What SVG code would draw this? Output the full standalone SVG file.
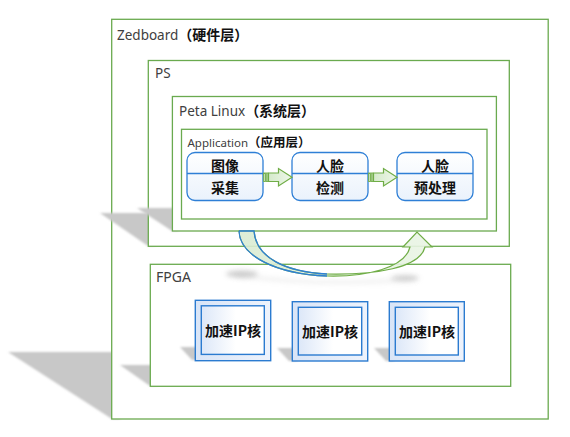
<svg xmlns="http://www.w3.org/2000/svg" width="570" height="437" viewBox="0 0 570 437">
<defs>
<style>
.box{fill:#ffffff;stroke:#6aaa4f;stroke-width:1.3}
.lbl{font-family:"Noto Sans","Open Sans",sans-serif;fill:#404040}
.cjk{font-family:"Noto Sans CJK SC",sans-serif;font-weight:bold;fill:#111}
.ntx{font-family:"Noto Sans CJK SC",sans-serif;font-weight:bold;font-size:14px;fill:#111;text-anchor:middle;dominant-baseline:central}
.node{fill:url(#nodeFill);stroke:#2e7fd6;stroke-width:1.3}
.div{stroke:#2e7fd6;stroke-width:1.3}
.sh{fill:#c8c8c8;filter:url(#blur)}
.ipo{fill:url(#ipFill);stroke:#2b7bd0;stroke-width:1.4}
.ipi{fill:url(#ipInner);stroke:#2b7bd0;stroke-width:1.4}
.ga{fill:url(#gArrow);stroke:#70ad47;stroke-width:1.2}
.bar{fill:#cfe6c4;stroke:#70ad47;stroke-width:0.9}
.ash{fill:#a8a8a8;filter:url(#blur3)}
</style>
<filter id="blur" x="-20%" y="-20%" width="140%" height="140%"><feGaussianBlur stdDeviation="1.3"/></filter>
<filter id="blur3" x="-50%" y="-100%" width="200%" height="300%"><feGaussianBlur stdDeviation="2.5"/></filter>
<linearGradient id="nodeFill" x1="0" y1="0" x2="0" y2="1"><stop offset="0" stop-color="#ffffff"/><stop offset="1" stop-color="#eaf2fc"/></linearGradient>
<linearGradient id="ipFill" x1="0" y1="0" x2="1" y2="0"><stop offset="0" stop-color="#d9e5f7"/><stop offset="1" stop-color="#eef3fc"/></linearGradient>
<linearGradient id="ipInner" x1="0" y1="0" x2="1" y2="0"><stop offset="0" stop-color="#dce7f8"/><stop offset="0.55" stop-color="#ffffff"/><stop offset="1" stop-color="#ffffff"/></linearGradient>
<linearGradient id="gArrow" x1="0" y1="0" x2="1" y2="0"><stop offset="0" stop-color="#d5eacb"/><stop offset="1" stop-color="#eef7ea"/></linearGradient>
<linearGradient id="arcFill" x1="0" y1="0" x2="1" y2="0"><stop offset="0" stop-color="#d9ebd2"/><stop offset="1" stop-color="#eaf5e5"/></linearGradient>
<clipPath id="leftClip"><rect x="230" y="225" width="97" height="60"/></clipPath>
</defs>
<rect width="570" height="437" fill="#ffffff"/>

<g id="zedboard">
<polygon class="sh" points="8,352 120,352 120,419 112,419"/>
<rect class="box" x="111.7" y="19.3" width="436.5" height="399.7"/>
<text class="lbl" x="117" y="40" font-size="13.5">Zedboard<tspan class="cjk" font-size="14">（硬件层）</tspan></text>
</g>

<g id="ps">
<polygon class="sh" points="100,213 155,213 155,246 148,246"/>
<rect class="box" x="148.3" y="60.5" width="361" height="185.8"/>
<text class="lbl" x="155" y="78" font-size="13.5">PS</text>
</g>

<g id="petalinux">
<polygon class="sh" points="137,208 178,208 178,231 172,231"/>
<rect class="box" x="172.4" y="96.5" width="324" height="134.5"/>
<text class="lbl" x="179" y="116" font-size="13.5">Peta Linux<tspan class="cjk" font-size="14">（系统层）</tspan></text>
</g>

<g id="application">
<rect class="box" x="181.5" y="129.3" width="305.5" height="89.7"/>
<text class="lbl" x="187.5" y="146.5" font-size="11.5">Application<tspan class="cjk" font-size="12.5">（应用层）</tspan></text>
</g>

<g id="node-capture">
<rect class="node" x="187" y="152.5" width="76" height="48" rx="8"/>
<line class="div" x1="187" y1="173.5" x2="263" y2="173.5"/>
<text class="ntx" x="225" y="165">图像</text>
<text class="ntx" x="225" y="187">采集</text>
</g>

<g id="node-detect">
<rect class="node" x="292" y="152.5" width="76" height="48" rx="8"/>
<line class="div" x1="292" y1="173.5" x2="368" y2="173.5"/>
<text class="ntx" x="330" y="165">人脸</text>
<text class="ntx" x="330" y="187">检测</text>
</g>

<g id="node-preprocess">
<rect class="node" x="397" y="152.5" width="76" height="48" rx="8"/>
<line class="div" x1="397" y1="173.5" x2="473" y2="173.5"/>
<text class="ntx" x="435" y="165">人脸</text>
<text class="ntx" x="435" y="187">预处理</text>
</g>

<g id="fpga">
<polygon class="sh" points="120,365 156,365 156,386 150,386"/>
<rect class="box" x="150.3" y="264.3" width="360.4" height="122"/>
<text class="lbl" x="156" y="282" font-size="14">FPGA</text>
<ellipse class="ash" cx="242" cy="274" rx="16" ry="3.5" opacity="0.55"/>
<ellipse class="ash" cx="405" cy="278" rx="14" ry="3" opacity="0.5"/>
<path d="M235,275 Q320,287 415,279" fill="none" stroke="#b0b0b0" stroke-opacity="0.18" stroke-width="4" filter="url(#blur3)"/>
</g>

<g id="ip1">
<polygon class="sh" points="180,347 200,347 200,360 192,360"/>
<rect class="ipo" x="195.3" y="300.3" width="75.4" height="60.4"/>
<rect class="ipi" x="201.3" y="305.8" width="63" height="48.6"/>
<text class="ntx" x="233" y="330">加速IP核</text>
</g>

<g id="ip2">
<polygon class="sh" points="277,348 297,348 297,361 289,361"/>
<rect class="ipo" x="292.3" y="301.7" width="75.4" height="59.3"/>
<rect class="ipi" x="298.3" y="307.3" width="63.4" height="47.7"/>
<text class="ntx" x="330" y="331">加速IP核</text>
</g>

<g id="ip3">
<polygon class="sh" points="374,348 394,348 394,361 386,361"/>
<rect class="ipo" x="389.3" y="301.7" width="75" height="59.3"/>
<rect class="ipi" x="395.3" y="307.3" width="63" height="47.7"/>
<text class="ntx" x="427" y="331">加速IP核</text>
</g>

<g id="connectors">
<g id="arrow-1">
<rect class="bar" x="263.6" y="173" width="1.8" height="8.5"/>
<rect class="bar" x="266.2" y="173" width="1.8" height="8.5"/>
<path class="ga" d="M268.5,173 H278.5 V168.5 L292,177.3 L278.5,186 V181.5 H268.5 Z"/>
</g>
<g id="arrow-2">
<rect class="bar" x="368.6" y="173" width="1.8" height="8.5"/>
<rect class="bar" x="371.2" y="173" width="1.8" height="8.5"/>
<path class="ga" d="M373.5,173 H383.5 V168.5 L397,177.3 L383.5,186 V181.5 H373.5 Z"/>
</g>
<g id="arc-arrow">
<path d="M239,231 C240,256 276,274 327,276 C366,277 405,268 410,247 L403,247 L417,232 L432,247 L425,247 C420,268 376,275 327,274 C286,272 256,258 254,231 Z" fill="url(#arcFill)" fill-opacity="0.9" stroke="#70ad47" stroke-width="1.2"/>
<path d="M239,231 C240,256 276,274 327,276 M327,274 C286,272 256,258 254,231 L239,231" fill="none" stroke="#2e7fd6" stroke-width="1.3" clip-path="url(#leftClip)"/>
</g>
</g>
</svg>
